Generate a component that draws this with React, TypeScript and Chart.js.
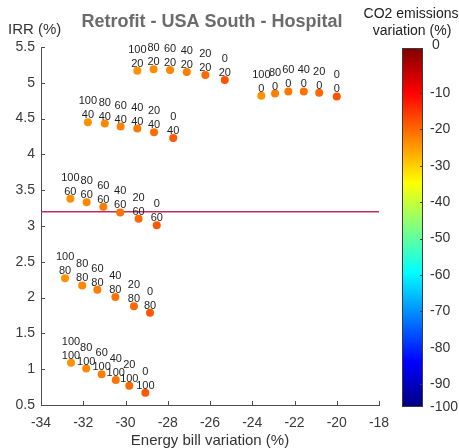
import React, { useEffect, useRef } from 'react';
import { Chart, registerables } from 'chart.js';

Chart.register(...registerables);

// Point annotations: first line = share, second line = group of the series
const shareLabels = ['100', '80', '60', '40', '20', '0'];
const groupLabels = ['0', '20', '40', '60', '80', '100'];

// Energy bill variation (%) per series
const energyBill0 = [-23.57, -22.92, -22.29, -21.56, -20.83, -20.0];
const energyBill20 = [-29.44, -28.67, -27.89, -27.1, -26.22, -25.3];
const energyBill40 = [-31.78, -30.98, -30.23, -29.44, -28.65, -27.74];
const energyBill60 = [-32.61, -31.84, -31.05, -30.25, -29.38, -28.52];
const energyBill80 = [-32.86, -32.05, -31.33, -30.48, -29.6, -28.84];
const energyBill100 = [-32.58, -31.86, -31.13, -30.46, -29.82, -29.06];

// IRR (%) per series
const irr0 = [4.82, 4.85, 4.88, 4.88, 4.86, 4.81];
const irr20 = [5.17, 5.19, 5.18, 5.15, 5.11, 5.04];
const irr40 = [4.45, 4.43, 4.39, 4.36, 4.31, 4.23];
const irr60 = [3.38, 3.33, 3.27, 3.19, 3.1, 3.01];
const irr80 = [2.27, 2.17, 2.11, 2.01, 1.88, 1.79];
const irr100 = [1.09, 1.01, 0.93, 0.85, 0.77, 0.67];

// CO2 emissions variation (%) per series, used for the marker colour
const co2_0 = [-24, -22, -21.5, -21, -20, -18];
const co2_20 = [-24, -23.5, -23, -22, -20, -18];
const co2_40 = [-24, -23, -22.5, -21.5, -20.5, -18.5];
const co2_60 = [-24, -23, -22, -21, -20, -18.5];
const co2_80 = [-24, -23, -22, -21, -20, -18.5];
const co2_100 = [-24, -23, -22, -21, -20, -18.5];

const billSeries = [energyBill0, energyBill20, energyBill40, energyBill60, energyBill80, energyBill100];
const irrSeries = [irr0, irr20, irr40, irr60, irr80, irr100];
const co2Series = [co2_0, co2_20, co2_40, co2_60, co2_80, co2_100];

// Reference IRR level
const irrThreshold = 3.2;

// Axis ranges
const xRange = [-34, -18];
const xStep = 2;
const yRange = [0.5, 5.5];
const yStep = 0.5;

// Colour bar
const colorbarLimits = [-96.3, 2.4];
const colorbarTicks = [-10, -20, -30, -40, -50, -60, -70, -80, -90];
const colorbarEndLabels = ['0', '-100'];

const FONT = 'Liberation Sans, Arial, Helvetica, sans-serif';

function jet(t: number): string {
  const c = Math.max(0, Math.min(1, t));
  const f = (v: number) => Math.round(255 * Math.max(0, Math.min(1, v)));
  const r = f(1.5 - Math.abs(4 * c - 3));
  const g = f(1.5 - Math.abs(4 * c - 2));
  const b = f(1.5 - Math.abs(4 * c - 1));
  return `rgb(${r},${g},${b})`;
}

function co2Color(v: number): string {
  return jet((v - colorbarLimits[0]) / (colorbarLimits[1] - colorbarLimits[0]));
}

const pointLabelPlugin = {
  id: 'pointLabels',
  afterDatasetsDraw(chart: any) {
    const ctx = chart.ctx;
    ctx.save();
    ctx.font = `11px ${FONT}`;
    ctx.fillStyle = '#1e1e1e';
    ctx.textAlign = 'center';
    ctx.textBaseline = 'middle';
    for (let i = 0; i < billSeries.length; i++) {
      const meta = chart.getDatasetMeta(i);
      meta.data.forEach((el: any, j: number) => {
        ctx.fillText(shareLabels[j], el.x, el.y - 21);
        ctx.fillText(groupLabels[i], el.x, el.y - 7);
      });
    }
    ctx.restore();
  },
};

const decorPlugin = {
  id: 'decor',
  afterDraw(chart: any) {
    const ctx = chart.ctx;
    const area = chart.chartArea;
    const xs = chart.scales.x;
    const ys = chart.scales.y;
    ctx.save();

    // inward tick marks
    ctx.strokeStyle = '#4d4d4d';
    ctx.lineWidth = 1;
    ctx.beginPath();
    xs.ticks.forEach((t: any) => {
      const px = Math.round(xs.getPixelForValue(t.value)) + 0.5;
      ctx.moveTo(px, area.bottom);
      ctx.lineTo(px, area.bottom - 4);
    });
    ys.ticks.forEach((t: any) => {
      const py = Math.round(ys.getPixelForValue(t.value)) + 0.5;
      ctx.moveTo(area.left, py);
      ctx.lineTo(area.left + 4, py);
    });
    ctx.stroke();

    // title
    ctx.fillStyle = '#6b6b6b';
    ctx.font = `bold 18px ${FONT}`;
    ctx.textAlign = 'center';
    ctx.textBaseline = 'middle';
    ctx.fillText('Retrofit - USA South - Hospital', 212, 22);

    // y-axis heading
    ctx.fillStyle = '#333333';
    ctx.font = `15px ${FONT}`;
    ctx.textAlign = 'left';
    ctx.fillText('IRR (%)', 8, 30);

    // colour bar
    const barLeft = 402;
    const barRight = 423;
    const barTop = area.top + 1;
    const barBottom = area.bottom + 2;
    const grad = ctx.createLinearGradient(0, barBottom, 0, barTop);
    [0, 0.125, 0.375, 0.625, 0.875, 1].forEach((s) => grad.addColorStop(s, jet(s)));
    ctx.fillStyle = grad;
    ctx.fillRect(barLeft, barTop, barRight - barLeft, barBottom - barTop);
    ctx.strokeStyle = '#3c3c3c';
    ctx.strokeRect(barLeft + 0.5, barTop + 0.5, barRight - barLeft - 1, barBottom - barTop - 1);

    const cbY = (v: number) =>
      barTop + ((colorbarLimits[1] - v) / (colorbarLimits[1] - colorbarLimits[0])) * (barBottom - barTop);
    ctx.beginPath();
    colorbarTicks.forEach((v) => {
      const py = Math.round(cbY(v)) + 0.5;
      ctx.moveTo(barRight, py);
      ctx.lineTo(barRight - 3, py);
    });
    ctx.stroke();

    ctx.fillStyle = '#333333';
    ctx.font = `14px ${FONT}`;
    ctx.textAlign = 'left';
    colorbarTicks.forEach((v) => ctx.fillText(String(v), 430, cbY(v)));
    ctx.fillText(colorbarEndLabels[0], 432, barTop - 3);
    ctx.fillText(colorbarEndLabels[1], 430, barBottom);

    ctx.fillStyle = '#222222';
    ctx.textAlign = 'center';
    ctx.fillText('CO2 emissions', 411, 14);
    ctx.fillText('variation (%)', 412, 31);

    ctx.restore();
  },
};

export default function App() {
  const canvasRef = useRef<HTMLCanvasElement>(null);

  useEffect(() => {
    const canvas = canvasRef.current;
    if (!canvas) return;

    const pointSets = billSeries.map((bills, i) => ({
      type: 'scatter' as const,
      label: `group ${groupLabels[i]}`,
      data: bills.map((x, j) => ({ x, y: irrSeries[i][j] })),
      backgroundColor: co2Series[i].map(co2Color),
      borderWidth: 0,
      pointRadius: 4,
      pointHoverRadius: 4,
    }));

    const thresholdSet = {
      type: 'line' as const,
      label: 'threshold',
      data: [
        { x: xRange[0], y: irrThreshold },
        { x: xRange[1], y: irrThreshold },
      ],
      borderColor: '#c32a5c',
      borderWidth: 1.5,
      pointRadius: 0,
      showLine: true,
      fill: false,
    };

    const chart = new Chart(canvas, {
      type: 'scatter',
      data: { datasets: [...pointSets, thresholdSet] as any },
      options: {
        responsive: false,
        animation: false,
        events: [],
        layout: { padding: { top: 47, right: 80, left: 0, bottom: 0 } },
        plugins: {
          legend: { display: false },
          title: { display: false },
          tooltip: { enabled: false },
        },
        scales: {
          x: {
            type: 'linear',
            min: xRange[0],
            max: xRange[1],
            grid: { display: false, drawTicks: false },
            border: { display: true, color: '#4d4d4d', width: 1 },
            ticks: {
              stepSize: xStep,
              padding: 10,
              color: '#3a3a3a',
              font: { family: FONT, size: 14 },
              maxRotation: 0,
              autoSkip: false,
              callback: (v: any) => String(v),
            },
            title: {
              display: true,
              text: 'Energy bill variation (%)',
              color: '#333333',
              font: { family: FONT, size: 15, lineHeight: 1 },
              padding: { top: 0, bottom: 0 },
            },
            afterFit: (s: any) => {
              s.height = 43;
            },
          },
          y: {
            type: 'linear',
            min: yRange[0],
            max: yRange[1],
            grid: { display: false, drawTicks: false },
            border: { display: true, color: '#4d4d4d', width: 1 },
            ticks: {
              stepSize: yStep,
              padding: 6,
              color: '#3a3a3a',
              font: { family: FONT, size: 14 },
              autoSkip: false,
              callback: (v: any) => String(v),
            },
            afterFit: (s: any) => {
              s.width = 41;
            },
          },
        },
      },
      plugins: [pointLabelPlugin, decorPlugin],
    });

    return () => chart.destroy();
  }, []);

  return (
    <div style={{ position: 'fixed', left: 0, top: 0, width: 459, height: 448, background: '#fff' }}>
      <canvas ref={canvasRef} width={459} height={448} style={{ display: 'block' }} />
    </div>
  );
}
